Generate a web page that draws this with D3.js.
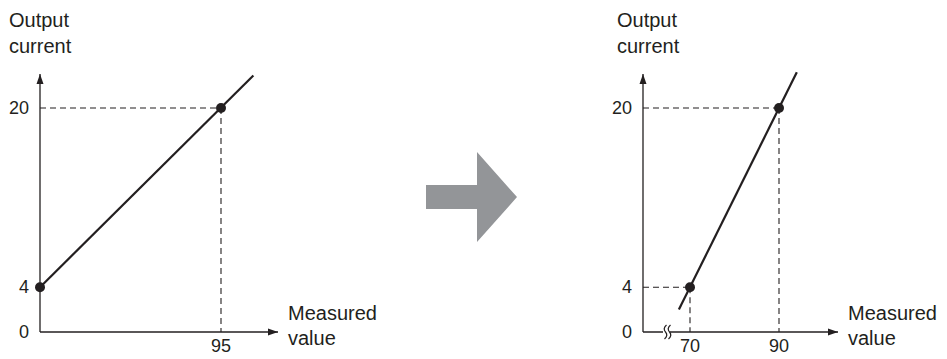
<!DOCTYPE html>
<html>
<head>
<meta charset="utf-8">
<script src="https://cdn.jsdelivr.net/npm/d3@7"></script>
<style>
  body { margin: 0; background: #fff; }
  text { font-family: "Liberation Sans", Arial, sans-serif; fill: #231f20; }
</style>
</head>
<body>
<div id="chart"></div>
<script>
'use strict';

// left panel: 0..95 mapped to 4..20 mA
const leftPoints = [{x: 0, y: 4}, {x: 95, y: 20}];
const leftLine = [{x: 0, y: 4}, {x: 112, y: 22.9}];
const leftXTicks = [95];

// right panel: 70..90 mapped to 4..20 mA
const rightPoints = [{x: 70, y: 4}, {x: 90, y: 20}];
const rightLine = [{x: 67.5, y: 2}, {x: 94, y: 23.2}];
const rightXTicks = [70, 90];

const yTicks = [0, 4, 20];

const ink = '#231f20';

const svg = d3.select('#chart').append('svg')
    .attr('width', 947)
    .attr('height', 359);

const defs = svg.append('defs');
defs.append('marker')
    .attr('id', 'arr')
    .attr('viewBox', '0 0 10 10')
    .attr('refX', 10).attr('refY', 5)
    .attr('markerWidth', 10).attr('markerHeight', 10)
    .attr('markerUnits', 'userSpaceOnUse')
    .attr('orient', 'auto')
    .append('path')
    .attr('d', 'M0,1.5L10,5L0,8.5Z')
    .attr('fill', ink);

function drawPanel (opt)
{
    let g = svg.append('g');
    let x = opt.x, y = opt.y;
    let x0 = opt.originX, y0 = y(0);

    // titles
    let t = g.append('text').attr('x', opt.titleX).attr('y', 27).style('font-size', '20px');
    t.append('tspan').attr('x', opt.titleX).text('Output');
    t.append('tspan').attr('x', opt.titleX).attr('dy', 26).text('current');

    let m = g.append('text').attr('x', opt.measX).attr('y', 320).style('font-size', '20px');
    m.append('tspan').attr('x', opt.measX).text('Measured');
    m.append('tspan').attr('x', opt.measX).attr('dy', 25).text('value');

    // dashed guide lines
    opt.points.forEach(p => {
        if (p.x !== opt.xMin) {
            g.append('line')
                .attr('x1', x(p.x)).attr('x2', x(p.x))
                .attr('y1', y(p.y)).attr('y2', y0)
                .attr('stroke', ink).attr('stroke-width', 1.1)
                .attr('stroke-dasharray', '6,4');
        }
        g.append('line')
            .attr('x1', x0).attr('x2', x(p.x))
            .attr('y1', y(p.y)).attr('y2', y(p.y))
            .attr('stroke', ink).attr('stroke-width', 1.1)
            .attr('stroke-dasharray', '6,4');
    });

    // axes
    g.append('line')
        .attr('x1', x0).attr('x2', x0)
        .attr('y1', y0).attr('y2', 74)
        .attr('stroke', ink).attr('stroke-width', 1.3)
        .attr('marker-end', 'url(#arr)');
    g.append('line')
        .attr('x1', x0).attr('x2', opt.axisEnd)
        .attr('y1', y0).attr('y2', y0)
        .attr('stroke', ink).attr('stroke-width', 1.3)
        .attr('marker-end', 'url(#arr)');

    if (opt.brk) {
        let bx = opt.brk;
        g.append('rect').attr('x', bx - 4).attr('y', y0 - 6).attr('width', 7).attr('height', 12).attr('fill', '#fff');
        [-2.5, 1.5].forEach(o => {
            g.append('path')
                .attr('d', `M${bx + o + 2},${y0 - 7} q-4,3.5 -1,7 q3,3.5 -1,7`)
                .attr('fill', 'none').attr('stroke', ink).attr('stroke-width', 1.2);
        });
    }

    // tick labels
    g.selectAll('.ytick').data(yTicks).enter().append('text')
        .attr('x', x0 - 11).attr('y', d => y(d) + 6)
        .attr('text-anchor', 'end')
        .style('font-size', '18px')
        .text(d => d);
    g.selectAll('.xtick').data(opt.xTicks).enter().append('text')
        .attr('x', d => x(d)).attr('y', 352)
        .attr('text-anchor', 'middle')
        .style('font-size', '18px')
        .text(d => d);

    // transfer line
    g.append('path')
        .datum(opt.line)
        .attr('d', d3.line().x(d => x(d.x)).y(d => y(d.y)))
        .attr('fill', 'none').attr('stroke', ink).attr('stroke-width', 2.2);

    g.selectAll('.dot').data(opt.points).enter().append('circle')
        .attr('cx', d => x(d.x)).attr('cy', d => y(d.y))
        .attr('r', 5).attr('fill', ink);
}

// left
let yL = d3.scaleLinear().domain([0, 20]).range([332, 108]);
let xL = d3.scaleLinear().domain([0, 95]).range([40, 221]);
drawPanel({
    x: xL, y: yL, originX: 40, xMin: 0, axisEnd: 278,
    points: leftPoints, line: leftLine, xTicks: leftXTicks,
    titleX: 9, measX: 288
});

// right
let yR = d3.scaleLinear().domain([0, 20]).range([332, 108]);
let xR = d3.scaleLinear().domain([70, 90]).range([690, 779]);
drawPanel({
    x: xR, y: yR, originX: 643, xMin: null, axisEnd: 838, brk: 667,
    points: rightPoints, line: rightLine, xTicks: rightXTicks,
    titleX: 617, measX: 848
});

// arrow between panels
svg.append('path')
    .attr('d', d3.line()([[426, 185], [477, 185], [477, 152], [517, 197], [477, 242], [477, 209], [426, 209]]) + 'Z')
    .attr('fill', '#939598');
</script>
</body>
</html>
